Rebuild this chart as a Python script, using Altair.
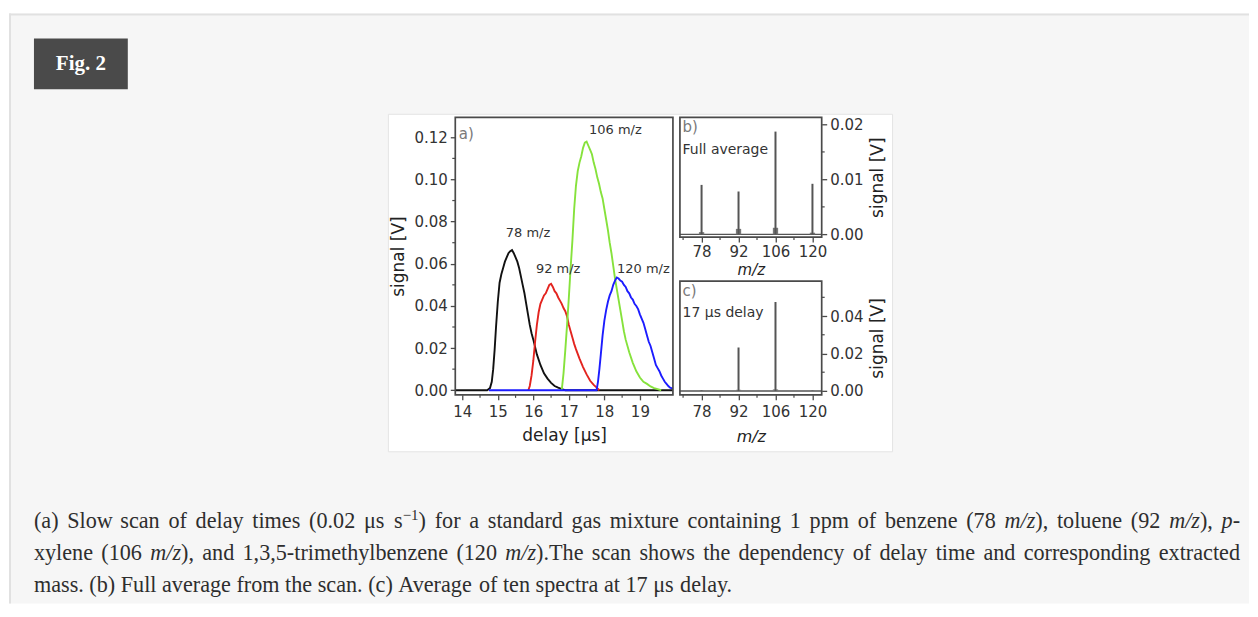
import altair as alt
import pandas as pd

# ---------------- data: panel (a) delay scan ----------------
delay_78 = [13.80, 14.70, 14.78, 14.83, 14.87, 14.91, 14.95, 15.00, 15.05, 15.10,
            15.15, 15.20, 15.25, 15.30, 15.35, 15.40, 15.45, 15.50, 15.55, 15.60,
            15.65, 15.70, 15.75, 15.80, 15.85, 15.90, 15.95, 16.00, 16.10, 16.20,
            16.30, 16.40, 16.50, 16.60, 16.70, 16.80, 16.90, 19.93]
signal_78 = [0, 0, 0.001, 0.004, 0.010, 0.019, 0.030, 0.042, 0.051, 0.055,
             0.058, 0.061, 0.063, 0.065, 0.066, 0.0665, 0.065, 0.063, 0.061, 0.058,
             0.054, 0.050, 0.046, 0.041, 0.036, 0.031, 0.027, 0.024, 0.017, 0.012,
             0.008, 0.0055, 0.0035, 0.002, 0.0012, 0.0005, 0, 0]

delay_92 = [15.86, 15.90, 15.95, 16.00, 16.05, 16.10, 16.15, 16.20, 16.25, 16.30,
            16.35, 16.40, 16.45, 16.50, 16.55, 16.60, 16.65, 16.70, 16.75, 16.80,
            16.85, 16.90, 16.95, 17.00, 17.05, 17.10, 17.15, 17.20, 17.30, 17.40,
            17.50, 17.60, 17.70, 17.80, 17.86]
signal_92 = [0, 0.002, 0.007, 0.014, 0.023, 0.031, 0.037, 0.041, 0.043, 0.045,
             0.046, 0.048, 0.050, 0.0505, 0.049, 0.047, 0.046, 0.044, 0.0425, 0.041,
             0.039, 0.0375, 0.035, 0.031, 0.028, 0.025, 0.022, 0.0195, 0.015, 0.011,
             0.0075, 0.0045, 0.0025, 0.001, 0]

delay_106 = [16.80, 16.85, 16.90, 16.95, 17.00, 17.05, 17.10, 17.15, 17.20, 17.25,
             17.30, 17.35, 17.40, 17.45, 17.50, 17.55, 17.60, 17.65, 17.70, 17.75,
             17.80, 17.85, 17.90, 17.95, 18.00, 18.05, 18.10, 18.15, 18.20, 18.25,
             18.30, 18.35, 18.40, 18.45, 18.50, 18.55, 18.60, 18.70, 18.80, 18.90,
             19.00, 19.10, 19.20, 19.30, 19.40, 19.50, 19.60]
signal_106 = [0, 0.008, 0.019, 0.031, 0.044, 0.058, 0.071, 0.086, 0.097, 0.104,
              0.108, 0.111, 0.115, 0.1175, 0.118, 0.116, 0.114, 0.112, 0.108, 0.105,
              0.101, 0.098, 0.094, 0.091, 0.086, 0.081, 0.076, 0.070, 0.065, 0.059,
              0.053, 0.048, 0.043, 0.038, 0.033, 0.028, 0.024, 0.018, 0.013, 0.009,
              0.006, 0.004, 0.003, 0.0018, 0.001, 0.0005, 0]

delay_120 = [14.75, 17.78, 17.82, 17.86, 17.90, 17.95, 18.00, 18.05, 18.10, 18.15,
             18.20, 18.25, 18.30, 18.35, 18.40, 18.45, 18.50, 18.55, 18.60, 18.65,
             18.70, 18.75, 18.80, 18.85, 18.90, 18.95, 19.00, 19.05, 19.10, 19.15,
             19.20, 19.25, 19.30, 19.35, 19.40, 19.45, 19.50, 19.55, 19.60, 19.65,
             19.70, 19.75, 19.80, 19.85, 19.93]
signal_120 = [0, 0, 0.004, 0.010, 0.017, 0.026, 0.033, 0.038, 0.042, 0.045,
              0.047, 0.050, 0.052, 0.0535, 0.053, 0.052, 0.0515, 0.050, 0.049, 0.047,
              0.046, 0.044, 0.043, 0.041, 0.040, 0.0385, 0.036, 0.034, 0.032, 0.029,
              0.026, 0.023, 0.021, 0.018, 0.015, 0.012, 0.0105, 0.009, 0.007, 0.0055,
              0.004, 0.003, 0.002, 0.0012, 0.0008]

peak_labels = ["78 m/z", "92 m/z", "106 m/z", "120 m/z"]
peak_label_delay = [15.85, 16.70, 18.31, 19.10]
peak_label_signal = [0.0747, 0.0575, 0.1233, 0.0576]

# ---------------- data: panels (b), (c) mass spectra ----------------
mz_peaks = [78, 92, 106, 120]
full_avg_peak = [0.0090, 0.0078, 0.0187, 0.0092]
full_avg_base = [0.0004, 0.0010, 0.0012, 0.0003]
delay17_peak = [0.0003, 0.0232, 0.0475, 0.0002]
delay17_base = [0.0002, 0.0006, 0.0008, 0.0001]

# ---------------- ticks ----------------
a_x_ticks = [14, 15, 16, 17, 18, 19]
a_x_minor = [14.5, 15.5, 16.5, 17.5, 18.5, 19.5]
a_y_ticks = [0.0, 0.02, 0.04, 0.06, 0.08, 0.10, 0.12]
a_y_minor = [0.01, 0.03, 0.05, 0.07, 0.09, 0.11]
mz_ticks = [78, 92, 106, 120]
mz_minor = [71, 85, 99, 113]
b_y_ticks = [0.0, 0.01, 0.02]
b_y_minor = [0.005, 0.015]
c_y_ticks = [0.0, 0.02, 0.04]
c_y_minor = [0.01, 0.03, 0.05]

# ---------------- caption ----------------
caption_lines = [
    "(a) Slow scan of delay times (0.02 μs s^−1^) for a standard gas mixture containing 1 ppm of benzene (78 _m/z_), toluene (92 _m/z_), _p_-",
    "xylene (106 _m/z_), and 1,3,5-trimethylbenzene (120 _m/z_).The scan shows the dependency of delay time and corresponding extracted",
    "mass. (b) Full average from the scan. (c) Average of ten spectra at 17 μs delay.",
]
caption_justify = [True, True, False]
caption_baselines = [527, 559, 591]
CAP_LEFT, CAP_RIGHT = 33, 1241
CAP_SIZE, SUP_SIZE = 22.2, 15

# ---------------- layout ----------------
PX0, PY0 = 455, 116          # page position of panel (a) plot origin
WA, HA = 218, 278
WB, HB = 142, 120
WC, HC = 142, 114
xa_dom = [13.803, 19.93]
ya_dom = [-0.0022, 0.1295]
mz_dom = [69.8, 123.5]
yb_dom = [-0.0005, 0.0213]
yc_dom = [-0.0021, 0.0587]

FRAME = "#4a4a4a"
SANS = "DejaVu Sans"
SERIF = "Liberation Serif"

# page chrome rectangles (page pixels)
chrome_x1 = [8, 8, 8, 8, 33, 388]
chrome_x2 = [1250, 1250, 1250, 10, 127, 893]
chrome_y1 = [8, 12, 12, 12, 37, 113]
chrome_y2 = [603, 603, 14, 603, 88, 451]
chrome_fill = ["#ffffff", "#f6f6f6", "#e1e1e1", "#e1e1e1", "#4a4a4a", "#ffffff"]
chrome_stroke = ["transparent", "transparent", "transparent", "transparent", "transparent", "#e4e4e4"]

# Times New Roman / Liberation Serif advance widths (per 1000 em)
W_REG = {' ': 250, '(': 333, ')': 333, ',': 250, '-': 333, '.': 250, '/': 278,
         'A': 722, 'F': 556, 'T': 611, 'μ': 576, '−': 564,
         'a': 444, 'b': 500, 'c': 444, 'd': 500, 'e': 444, 'f': 333, 'g': 500,
         'h': 500, 'i': 278, 'j': 278, 'k': 500, 'l': 278, 'm': 778, 'n': 500,
         'o': 500, 'p': 500, 'q': 500, 'r': 333, 's': 389, 't': 278, 'u': 500,
         'v': 500, 'w': 722, 'x': 500, 'y': 500, 'z': 444}
for _d in "0123456789":
    W_REG[_d] = 500
W_ITAL = {'m': 722, '/': 278, 'z': 389, 'p': 500}


def parse_word(word):
    runs, style, buf = [], 'n', ''
    for ch in word:
        if ch in '_^':
            if buf:
                runs.append((buf, style))
                buf = ''
            tgt = 'i' if ch == '_' else 's'
            style = 'n' if style == tgt else tgt
        else:
            buf += ch
    if buf:
        runs.append((buf, style))
    return runs


def run_w(text, style):
    if style == 'i':
        return sum(W_ITAL.get(c, 500) for c in text) * CAP_SIZE / 1000
    size = SUP_SIZE if style == 's' else CAP_SIZE
    return sum(W_REG.get(c, 500) for c in text) * size / 1000


cap_rows = []
for li, line in enumerate(caption_lines):
    words = [parse_word(w) for w in line.split(' ')]
    widths = [sum(run_w(t, s) for t, s in w) for w in words]
    if caption_justify[li]:
        gap = (CAP_RIGHT - CAP_LEFT - sum(widths)) / (len(words) - 1)
    else:
        gap = W_REG[' '] * CAP_SIZE / 1000
    x = CAP_LEFT
    for w, wd in zip(words, widths):
        xx = x
        for t, s in w:
            cap_rows.append({"px": xx - PX0,
                             "py": caption_baselines[li] - PY0 - (8 if s == 's' else 0),
                             "text": t, "style": s})
            xx += run_w(t, s)
        x += wd + gap
cap_df = pd.DataFrame(cap_rows)


def axis(orient, values, fmt, title, title_style="normal", title_angle=None,
         label_pad=4, title_pad=6, title_baseline=None, title_size=17):
    kw = dict(orient=orient, values=values, format=fmt, title=title, grid=False,
              domain=False, tickSize=5, tickWidth=1.3, tickColor=FRAME,
              labelFont=SANS, labelFontSize=15, labelColor="#333333",
              labelPadding=label_pad, labelOverlap=False,
              titleFont=SANS, titleFontSize=title_size, titleFontWeight="normal",
              titleFontStyle=title_style, titleColor="#222222",
              titlePadding=title_pad, zindex=1)
    if title_angle is not None:
        kw["titleAngle"] = title_angle
    if title_baseline is not None:
        kw["titleBaseline"] = title_baseline
    return alt.Axis(**kw)


ax_a_x = axis("bottom", a_x_ticks, "d", "delay [µs]", label_pad=5, title_pad=8)
ax_a_y = axis("left", a_y_ticks, ".2f", "signal [V]", label_pad=3, title_pad=6)
ax_b_x = axis("bottom", mz_ticks, "d", "m/z", title_style="italic", label_pad=2, title_pad=3,
              title_size=15)
ax_b_y = axis("right", b_y_ticks, ".2f", "signal [V]", title_angle=270, label_pad=3,
              title_pad=7, title_baseline="top")
ax_c_x = axis("bottom", mz_ticks, "d", "m/z", title_style="italic", label_pad=5, title_pad=9,
              title_size=16)
ax_c_y = axis("right", c_y_ticks, ".2f", "signal [V]", title_angle=270, label_pad=3,
              title_pad=7, title_baseline="top")


def XA(f):
    return alt.X(f"{f}:Q", scale=alt.Scale(domain=xa_dom, nice=False, zero=False), axis=ax_a_x)


def YA(f):
    return alt.Y(f"{f}:Q", scale=alt.Scale(domain=ya_dom, nice=False, zero=False), axis=ax_a_y)


def XM(f, ax):
    return alt.X(f"{f}:Q", scale=alt.Scale(domain=mz_dom, nice=False, zero=False), axis=ax)


def YM(f, dom, ax):
    return alt.Y(f"{f}:Q", scale=alt.Scale(domain=dom, nice=False, zero=False), axis=ax)


one = pd.DataFrame({"k": [0]})


def frame(w, h):
    return alt.Chart(one).mark_rect(filled=False, stroke=FRAME, strokeWidth=1.7).encode(
        x=alt.value(0), x2=alt.value(w), y=alt.value(0), y2=alt.value(h))


# ---------------- page chrome (drawn from panel a's layer) ----------------
chrome_df = pd.DataFrame({
    "x1": [v - PX0 for v in chrome_x1], "x2": [v - PX0 for v in chrome_x2],
    "y1": [v - PY0 for v in chrome_y1], "y2": [v - PY0 for v in chrome_y2],
    "fill": chrome_fill, "stroke": chrome_stroke,
})
chrome = alt.Chart(chrome_df).mark_rect(strokeWidth=1).encode(
    x=alt.X("x1:Q", scale=None, axis=None), x2="x2:Q",
    y=alt.Y("y1:Q", scale=None, axis=None), y2="y2:Q",
    fill=alt.Fill("fill:N", scale=None), stroke=alt.Stroke("stroke:N", scale=None))

fig_label = alt.Chart(one).mark_text(
    text="Fig. 2", font=SERIF, fontSize=21, fontWeight="bold", color="white",
    align="center", baseline="middle").encode(
    x=alt.value(80 - PX0), y=alt.value(63 - PY0))


def cap_layer(style, size, fstyle):
    return alt.Chart(cap_df[cap_df["style"] == style]).mark_text(
        font=SERIF, fontSize=size, fontStyle=fstyle, color="#2e2e2e",
        align="left", baseline="alphabetic").encode(
        x=alt.X("px:Q", scale=None, axis=None),
        y=alt.Y("py:Q", scale=None, axis=None),
        text="text:N")


captions = [cap_layer("n", CAP_SIZE, "normal"), cap_layer("i", CAP_SIZE, "italic"),
            cap_layer("s", SUP_SIZE, "normal")]

# ---------------- panel (a) ----------------


def series(d, s, color):
    df = pd.DataFrame({"delay": d, "signal": s})
    return alt.Chart(df).mark_line(color=color, strokeWidth=1.9).encode(
        x=XA("delay"), y=YA("signal"))


lab_df = pd.DataFrame({"delay": peak_label_delay, "signal": peak_label_signal, "label": peak_labels})
labels_a = alt.Chart(lab_df).mark_text(font=SANS, fontSize=13, color="#333333").encode(
    x=XA("delay"), y=YA("signal"), text="label:N")
tag_a = alt.Chart(pd.DataFrame({"delay": [13.90], "signal": [0.1217]})).mark_text(
    text="a)", font=SANS, fontSize=15, color="#7a7a7a", align="left").encode(
    x=XA("delay"), y=YA("signal"))
minor_ay = alt.Chart(pd.DataFrame({"v": a_y_minor})).mark_rule(color=FRAME, strokeWidth=1.2).encode(
    y=YA("v"), x=alt.value(-3), x2=alt.value(0))
minor_ax = alt.Chart(pd.DataFrame({"v": a_x_minor})).mark_rule(color=FRAME, strokeWidth=1.2).encode(
    x=XA("v"), y=alt.value(HA), y2=alt.value(HA + 3))

panel_a = alt.layer(
    chrome, fig_label, *captions,
    series(delay_78, signal_78, "#111111"),
    series(delay_92, signal_92, "#e3241f"),
    series(delay_106, signal_106, "#86e23c"),
    series(delay_120, signal_120, "#1c1cff"),
    labels_a, tag_a, minor_ay, minor_ax, frame(WA, HA),
).properties(width=WA, height=HA)

# ---------------- panels (b), (c) ----------------


def spectrum_panel(peaks, bases, ydom, ax_x, ax_y, y_minor, w, h, tag, tag_y, note, note_y):
    df = pd.DataFrame({"mz": mz_peaks, "h": peaks, "b": bases, "z": [0.0] * len(mz_peaks)})
    df["lo"] = df["mz"] - 1.0
    df["hi"] = df["mz"] + 1.0
    zero = alt.Chart(one).mark_rule(color="#555555", strokeWidth=1.4).encode(
        x=alt.value(0), x2=alt.value(w), y=YM("k", ydom, ax_y))
    bases_l = alt.Chart(df).mark_rect(color="#777777").encode(
        x=XM("lo", ax_x), x2="hi:Q", y=YM("z", ydom, ax_y), y2="b:Q")
    sticks = alt.Chart(df).mark_rule(color="#555555", strokeWidth=2).encode(
        x=XM("mz", ax_x), y=YM("z", ydom, ax_y), y2="h:Q")
    ym = alt.Chart(pd.DataFrame({"v": y_minor})).mark_rule(color=FRAME, strokeWidth=1.2).encode(
        y=YM("v", ydom, ax_y), x=alt.value(w), x2=alt.value(w + 3))
    xm = alt.Chart(pd.DataFrame({"v": mz_minor})).mark_rule(color=FRAME, strokeWidth=1.2).encode(
        x=XM("v", ax_x), y=alt.value(h), y2=alt.value(h + 3))
    t1 = alt.Chart(pd.DataFrame({"mz": [70.8], "s": [tag_y]})).mark_text(
        text=tag, font=SANS, fontSize=15, color="#7a7a7a", align="left").encode(
        x=XM("mz", ax_x), y=YM("s", ydom, ax_y))
    t2 = alt.Chart(pd.DataFrame({"mz": [70.8], "s": [note_y]})).mark_text(
        text=note, font=SANS, fontSize=14, color="#333333", align="left").encode(
        x=XM("mz", ax_x), y=YM("s", ydom, ax_y))
    return alt.layer(zero, bases_l, sticks, ym, xm, t1, t2, frame(w, h)).properties(width=w, height=h)


panel_b = spectrum_panel(full_avg_peak, full_avg_base, yb_dom, ax_b_x, ax_b_y, b_y_minor,
                         WB, HB, "b)", 0.0195, "Full average", 0.0153)
panel_c = spectrum_panel(delay17_peak, delay17_base, yc_dom, ax_c_x, ax_c_y, c_y_minor,
                         WC, HC, "c)", 0.0534, "17 µs delay", 0.0417)

right = alt.vconcat(panel_b, panel_c, spacing=44, bounds="flush")
chart = alt.hconcat(panel_a, right, spacing=7, bounds="flush").properties(
    padding=0).configure(background="white").configure_view(stroke=None)

chart.save("out.html", embed_options={"renderer": "svg", "actions": False})
